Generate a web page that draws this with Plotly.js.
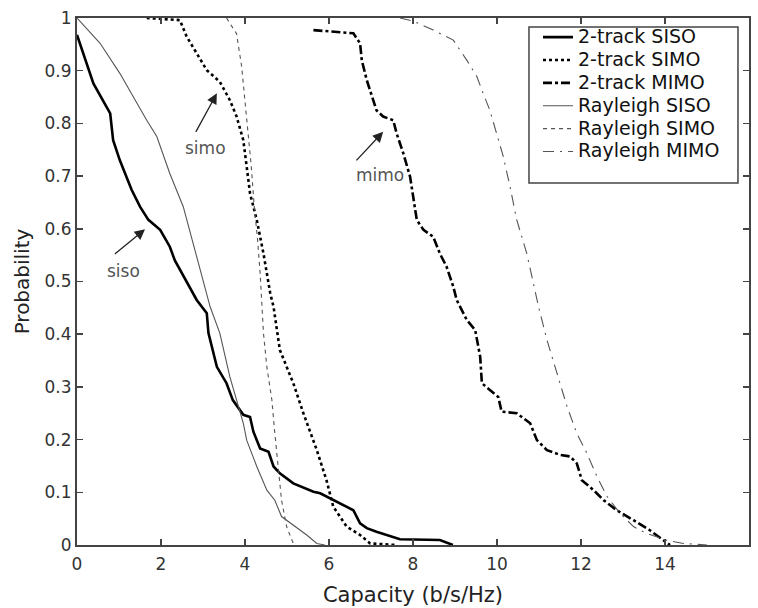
<!DOCTYPE html>
<html>
<head>
<meta charset="utf-8">
<script src="https://cdn.plot.ly/plotly-3.0.1.min.js"></script>
<style>
html,body{margin:0;padding:0;background:#fff;}
#chart{width:758px;height:608px;}
/* legend text drawn a little larger than its row pitch, as in the reference */
.legendtext{font-size:19px !important;}
</style>
</head>
<body>
<div id="chart"></div>
<script>
// ---- data ----
const seriesNames = ["2-track SISO", "2-track SIMO", "2-track MIMO", "Rayleigh SISO", "Rayleigh SIMO", "Rayleigh MIMO"];

const siso2X = [0, 0.39, 0.79, 0.86, 1.02, 1.3, 1.5, 1.7, 1.98, 2.21, 2.33, 2.77, 2.85, 3.09, 3.13, 3.33, 3.56, 3.71, 3.96, 4.12, 4.2, 4.36, 4.56, 4.68, 4.83, 5.15, 5.63, 5.79, 6.1, 6.58, 6.74, 6.9, 7.13, 7.53, 7.69, 8.64, 8.88, 8.95];
const siso2P = [0.968, 0.876, 0.819, 0.768, 0.73, 0.674, 0.642, 0.617, 0.598, 0.566, 0.54, 0.478, 0.465, 0.44, 0.402, 0.338, 0.307, 0.275, 0.247, 0.243, 0.215, 0.183, 0.177, 0.149, 0.136, 0.117, 0.101, 0.098, 0.085, 0.066, 0.041, 0.032, 0.025, 0.016, 0.011, 0.0095, 0.003, 0];

const simo2X = [1.66, 2.45, 2.61, 2.85, 3.09, 3.4, 3.64, 3.8, 3.96, 4.04, 4.12, 4.28, 4.44, 4.6, 4.68, 4.83, 5.15, 5.39, 5.71, 5.94, 6.1, 6.42, 6.74, 6.98, 7.6];
const simo2P = [1, 0.996, 0.965, 0.933, 0.901, 0.879, 0.844, 0.813, 0.768, 0.718, 0.667, 0.617, 0.553, 0.478, 0.452, 0.37, 0.307, 0.25, 0.18, 0.123, 0.073, 0.035, 0.019, 0.003, 0];

const mimo2X = [5.63, 6.1, 6.58, 6.74, 6.78, 6.9, 7.02, 7.13, 7.29, 7.53, 7.61, 7.77, 7.93, 8.01, 8.09, 8.25, 8.48, 8.64, 8.8, 8.96, 9.04, 9.28, 9.48, 9.6, 9.64, 9.83, 10.03, 10.11, 10.47, 10.79, 10.95, 11.19, 11.5, 11.74, 11.9, 12.02, 12.3, 12.54, 12.85, 13.25, 13.64, 13.96, 14.12];
const mimo2P = [0.977, 0.974, 0.971, 0.952, 0.92, 0.882, 0.851, 0.825, 0.813, 0.806, 0.781, 0.743, 0.699, 0.655, 0.617, 0.598, 0.585, 0.553, 0.528, 0.49, 0.465, 0.427, 0.408, 0.357, 0.307, 0.294, 0.281, 0.253, 0.25, 0.231, 0.199, 0.18, 0.171, 0.168, 0.155, 0.123, 0.104, 0.085, 0.066, 0.047, 0.028, 0.009, 0];

const raySisoX = [0, 0.55, 1.02, 1.42, 1.66, 1.9, 2.21, 2.53, 2.85, 3.09, 3.17, 3.4, 3.64, 3.8, 3.96, 4.04, 4.28, 4.52, 4.71, 4.87, 5.15, 5.47, 5.71, 5.9];
const raySisoP = [1, 0.952, 0.895, 0.838, 0.806, 0.775, 0.705, 0.642, 0.547, 0.478, 0.452, 0.402, 0.319, 0.275, 0.231, 0.199, 0.149, 0.104, 0.085, 0.054, 0.038, 0.019, 0.003, 0];

const raySimoX = [3.56, 3.8, 3.92, 4.0, 4.08, 4.15, 4.22, 4.3, 4.36, 4.40, 4.44, 4.52, 4.64, 4.71, 4.79, 4.87, 4.99, 5.15, 5.2];
const raySimoP = [1, 0.97, 0.908, 0.844, 0.78, 0.718, 0.642, 0.579, 0.516, 0.465, 0.402, 0.338, 0.275, 0.212, 0.149, 0.085, 0.035, 0.003, 0];

const rayMimoX = [7.69, 8.01, 8.48, 8.96, 9.28, 9.52, 9.67, 9.83, 9.99, 10.15, 10.31, 10.47, 10.71, 10.87, 10.99, 11.19, 11.43, 11.67, 11.9, 12.14, 12.38, 12.62, 12.93, 13.25, 13.56, 14.04, 14.44, 14.83, 15.0];
const rayMimoP = [1, 0.994, 0.977, 0.958, 0.92, 0.889, 0.857, 0.825, 0.781, 0.737, 0.68, 0.617, 0.553, 0.497, 0.452, 0.389, 0.326, 0.262, 0.212, 0.174, 0.13, 0.092, 0.06, 0.035, 0.022, 0.009, 0.003, 0.001, 0];

// annotation labels: text, text position, arrow tail, arrow head (data units)
const noteText  = ["siso", "simo", "mimo"];
const noteTextX = [1.10, 3.05, 7.21];
const noteTextY = [0.519, 0.753, 0.702];
const arrowTailX = [0.865, 2.81, 6.62];
const arrowTailY = [0.550, 0.781, 0.727];
const arrowHeadX = [1.62, 3.33, 7.29];
const arrowHeadY = [0.599, 0.857, 0.784];

const xTicks = [0, 2, 4, 6, 8, 10, 12, 14, 16];
const yTicks = [0, 0.1, 0.2, 0.3, 0.4, 0.5, 0.6, 0.7, 0.8, 0.9, 1];

// ---- traces ----
const FONT = "DejaVu Sans, Verdana, sans-serif";
const thick = "#000000", thin = "#555555";
const traces = [
  {x: siso2X, y: siso2P, name: seriesNames[0], line: {color: thick, width: 2.6, dash: "solid"}},
  {x: simo2X, y: simo2P, name: seriesNames[1], line: {color: thick, width: 2.6, dash: "dot"}},
  {x: mimo2X, y: mimo2P, name: seriesNames[2], line: {color: thick, width: 2.6, dash: "dashdot"}},
  {x: raySisoX, y: raySisoP, name: seriesNames[3], line: {color: thin, width: 1.1, dash: "solid"}},
  {x: raySimoX, y: raySimoP, name: seriesNames[4], line: {color: thin, width: 1.1, dash: "4px,4px"}},
  {x: rayMimoX, y: rayMimoP, name: seriesNames[5], line: {color: thin, width: 1.1, dash: "11px,6px,2px,6px"}}
].map(t => Object.assign({type: "scatter", mode: "lines", hoverinfo: "skip"}, t));

const annotations = [];
for (let i = 0; i < noteText.length; i++) {
  annotations.push({
    x: arrowHeadX[i], y: arrowHeadY[i], xref: "x", yref: "y",
    ax: arrowTailX[i], ay: arrowTailY[i], axref: "x", ayref: "y",
    text: "", showarrow: true, arrowhead: 2, arrowsize: 1.6, arrowwidth: 1.3, arrowcolor: "#222"
  });
  annotations.push({
    x: noteTextX[i], y: noteTextY[i], xref: "x", yref: "y",
    text: noteText[i], showarrow: false,
    font: {family: FONT, size: 17, color: "#555"}
  });
}

const axisCommon = {
  showline: true, linecolor: "#444", linewidth: 2, mirror: "ticks",
  ticks: "inside", ticklen: 6, tickwidth: 1.5, tickcolor: "#444",
  showgrid: false, zeroline: false,
  tickfont: {family: FONT, size: 17, color: "#333"}
};

const layout = {
  width: 758, height: 608,
  margin: {l: 77, r: 9, t: 18, b: 63, pad: 0},
  paper_bgcolor: "#fff", plot_bgcolor: "#fff",
  font: {family: FONT, color: "#222"},
  xaxis: Object.assign({}, axisCommon, {
    range: [0, 16], tickmode: "array", tickvals: xTicks, ticklabelstandoff: 3,
    title: {text: "Capacity (b/s/Hz)", font: {family: FONT, size: 21, color: "#222"}, standoff: 14}
  }),
  yaxis: Object.assign({}, axisCommon, {
    range: [0, 1], tickmode: "array", tickvals: yTicks,
    title: {text: "Probability", font: {family: FONT, size: 20, color: "#222"}, standoff: 10}
  }),
  legend: {
    x: 0.686, y: 0.995, xanchor: "left", yanchor: "top",
    bgcolor: "rgba(0,0,0,0)", borderwidth: 0,
    font: {family: FONT, size: 15.3, color: "#111"}
  },
  shapes: [{
    type: "rect", xref: "paper", yref: "paper",
    x0: 0.6726, x1: 0.9836, y0: 0.687, y1: 0.983,
    line: {color: "#444", width: 1.5}, fillcolor: "#fff", layer: "above"
  }],
  showlegend: true,
  annotations: annotations
};

Plotly.newPlot("chart", traces, layout, {staticPlot: true, displayModeBar: false});
</script>
</body>
</html>
